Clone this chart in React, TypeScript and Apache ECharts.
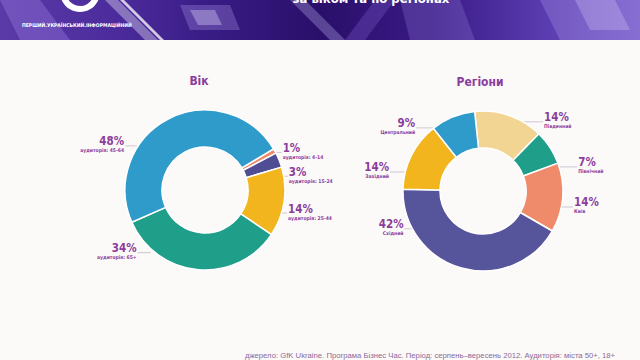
import React, { useEffect, useRef } from 'react';
import * as echarts from 'echarts';

// ---- data ----
const AGE_CATEGORIES = ['аудиторія: 4-14', 'аудиторія: 15-24', 'аудиторія: 25-44', 'аудиторія: 65+', 'аудиторія: 45-64'];
const AGE_VALUES = [1, 3, 14, 34, 48];
const REGION_CATEGORIES = ['Південний', 'Північний', 'Київ', 'Східний', 'Західний', 'Центральний'];
const REGION_VALUES = [14, 7, 14, 42, 14, 9];
const TITLE_AGE = 'Вік';
const TITLE_REGIONS = 'Регіони';
const HEADER_TITLE = 'за віком та по регіонах';
const LOGO_TEXT = 'ПЕРШИЙ.УКРАЇНСЬКИЙ.ІНФОРМАЦІЙНИЙ';
const SOURCE_TEXT = 'джерело: GfK Ukraine. Програма Бізнес Час. Період: серпень–вересень 2012. Аудиторія: міста 50+, 18+';

// ---- styles ----
const AGE_COLORS = ['#ee8a6b', '#4f4d93', '#f2b51d', '#1f9e8a', '#2f9bca'];
const REGION_COLORS = ['#f2d593', '#1f9e8a', '#ef8b6b', '#56549a', '#f2b51d', '#2f9bca'];
const LABEL_COLOR = '#8b3d9c';
const AGE_CENTER = [205, 190];
const REGION_CENTER = [483, 191];
const AGE_LABEL_GEOM = [
  { angle: 28, r: 80, len: 6 },
  { angle: 10, r: 79, len: 5 },
  { angle: -19.5, r: 69, len: 17 },
  { angle: -131, r: 83, len: 13 },
  { angle: 147, r: 81, len: 12 },
];
const REGION_LABEL_GEOM = [
  { angle: 73.8, r: 72, len: 40 },
  { angle: 18, r: 78, len: 20 },
  { angle: -13.8, r: 67, len: 25 },
  { angle: -151.8, r: 80, len: 8 },
  { angle: 165, r: 73.5, len: 22 },
  { angle: 126, r: 78, len: 21 },
];

const FONT = "'DejaVu Sans Condensed', 'DejaVu Sans', sans-serif";

function richFor(align: string) {
  return {
    p: { fontFamily: FONT, fontSize: 11.5, fontWeight: 'bold', lineHeight: 11, color: LABEL_COLOR, align },
    s: { fontFamily: FONT, fontSize: 5, fontWeight: 'bold', lineHeight: 7, color: LABEL_COLOR, align },
  };
}

function makeLayout(center: number[], geom: { angle: number; r: number; len: number }[]) {
  return (p: any) => {
    const g = geom[p.dataIndex];
    const a = (g.angle * Math.PI) / 180;
    const sx = center[0] + g.r * Math.cos(a);
    const sy = center[1] - g.r * Math.sin(a);
    const right = Math.cos(a) >= 0;
    const ex = sx + (right ? g.len : -g.len);
    return {
      x: ex + (right ? 1 : -1),
      y: sy - 10,
      align: right ? 'left' : 'right',
      verticalAlign: 'top',
      labelLinePoints: [
        [sx, sy],
        [(sx + ex) / 2, sy],
        [ex, sy],
      ],
    };
  };
}

function pieSeries(
  categories: string[],
  values: number[],
  colors: string[],
  center: number[],
  startAngle: number,
  geom: { angle: number; r: number; len: number }[]
) {
  return {
    type: 'pie',
    center,
    radius: [43, 80],
    startAngle,
    clockwise: true,
    avoidLabelOverlap: false,
    silent: true,
    itemStyle: { borderColor: '#ffffff', borderWidth: 1.5 },
    label: {
      show: true,
      position: 'outer',
      alignTo: 'none',
      formatter: (p: any) => `{p|${p.value}%}\n{s|${p.name}}`,
    },
    labelLine: { show: true, length: 5, length2: 5, lineStyle: { color: '#cfc6cf', width: 1 } },
    labelLayout: makeLayout(center, geom),
    data: categories.map((name, i) => {
      const right = Math.cos((geom[i].angle * Math.PI) / 180) >= 0;
      return {
        name,
        value: values[i],
        itemStyle: { color: colors[i] },
        label: { rich: richFor(right ? 'left' : 'right') },
      };
    }),
  };
}

export default function App() {
  const ref = useRef<HTMLDivElement>(null);
  useEffect(() => {
    const chart = echarts.init(ref.current!, null, { renderer: 'svg', width: 640, height: 360 });
    const option: any = {
      animation: false,
      backgroundColor: '#fcf9f9',
      graphic: [
        {
          type: 'rect',
          shape: { x: 0, y: 0, width: 640, height: 40 },
          style: {
            fill: {
              type: 'linear', x: 0, y: 0, x2: 1, y2: 0,
              colorStops: [
                { offset: 0, color: '#5a3aa6' },
                { offset: 0.18, color: '#4c2c9c' },
                { offset: 0.32, color: '#3a1c86' },
                { offset: 0.5, color: '#2a0f6a' },
                { offset: 0.68, color: '#3a1a86' },
                { offset: 0.85, color: '#5a3cb0' },
                { offset: 1, color: '#7458c8' },
              ],
            },
          },
          z: 0,
        },
        { type: 'polygon', shape: { points: [[0, 0], [40, 0], [70, 40], [20, 40]] }, style: { fill: 'rgba(160,130,230,0.35)' } },
        { type: 'polygon', shape: { points: [[105, 0], [118, 0], [158, 40], [145, 40]] }, style: { fill: 'rgba(255,255,255,0.35)' } },
        { type: 'polygon', shape: { points: [[120, 0], [124, 0], [164, 40], [160, 40]] }, style: { fill: 'rgba(255,255,255,0.75)' } },
        { type: 'polygon', shape: { points: [[180, 5], [230, 5], [240, 30], [190, 30]] }, style: { fill: 'rgba(200,185,255,0.25)' } },
        { type: 'polygon', shape: { points: [[190, 10], [215, 10], [222, 25], [198, 25]] }, style: { fill: 'rgba(230,220,255,0.35)' } },
        { type: 'polygon', shape: { points: [[290, 0], [305, 0], [345, 40], [330, 40]] }, style: { fill: 'rgba(180,170,230,0.35)' } },
        { type: 'polygon', shape: { points: [[375, 0], [395, 0], [365, 40], [345, 40]] }, style: { fill: 'rgba(120,90,200,0.35)' } },
        { type: 'polygon', shape: { points: [[400, 0], [460, 0], [475, 40], [410, 40]] }, style: { fill: 'rgba(200,185,255,0.18)' } },
        { type: 'polygon', shape: { points: [[540, 0], [640, 0], [640, 40], [560, 40]] }, style: { fill: 'rgba(210,200,255,0.2)' } },
        { type: 'polygon', shape: { points: [[575, 0], [615, 0], [630, 30], [590, 30]] }, style: { fill: 'rgba(230,225,255,0.25)' } },
        { type: 'ring', shape: { cx: 80, cy: -8, r: 20, r0: 14 }, style: { fill: '#ffffff' } },
        {
          type: 'text', x: 22, y: 25,
          style: { text: LOGO_TEXT, fill: '#ffffff', font: `bold 5px ${FONT}`, align: 'left', verticalAlign: 'middle' },
        },
        {
          type: 'text', x: 371, y: 5,
          style: { text: HEADER_TITLE, fill: '#ffffff', font: `bold 13px ${FONT}`, align: 'center', verticalAlign: 'bottom' },
        },
        {
          type: 'text', x: 199, y: 81,
          style: { text: TITLE_AGE, fill: LABEL_COLOR, font: `bold 12px ${FONT}`, align: 'center', verticalAlign: 'middle' },
        },
        {
          type: 'text', x: 480, y: 82,
          style: { text: TITLE_REGIONS, fill: LABEL_COLOR, font: `bold 12px ${FONT}`, align: 'center', verticalAlign: 'middle' },
        },
        {
          type: 'text', x: 430, y: 351,
          style: { text: SOURCE_TEXT, fill: '#8a6a98', font: `7.7px 'Liberation Sans', sans-serif`, align: 'center', verticalAlign: 'top' },
        },
      ],
      series: [
        pieSeries(AGE_CATEGORIES, AGE_VALUES, AGE_COLORS, AGE_CENTER, 31, AGE_LABEL_GEOM),
        pieSeries(REGION_CATEGORIES, REGION_VALUES, REGION_COLORS, REGION_CENTER, 96, REGION_LABEL_GEOM),
      ],
    };
    chart.setOption(option);
    return () => chart.dispose();
  }, []);
  return <div ref={ref} style={{ position: 'fixed', left: 0, top: 0, width: 640, height: 360 }} />;
}
